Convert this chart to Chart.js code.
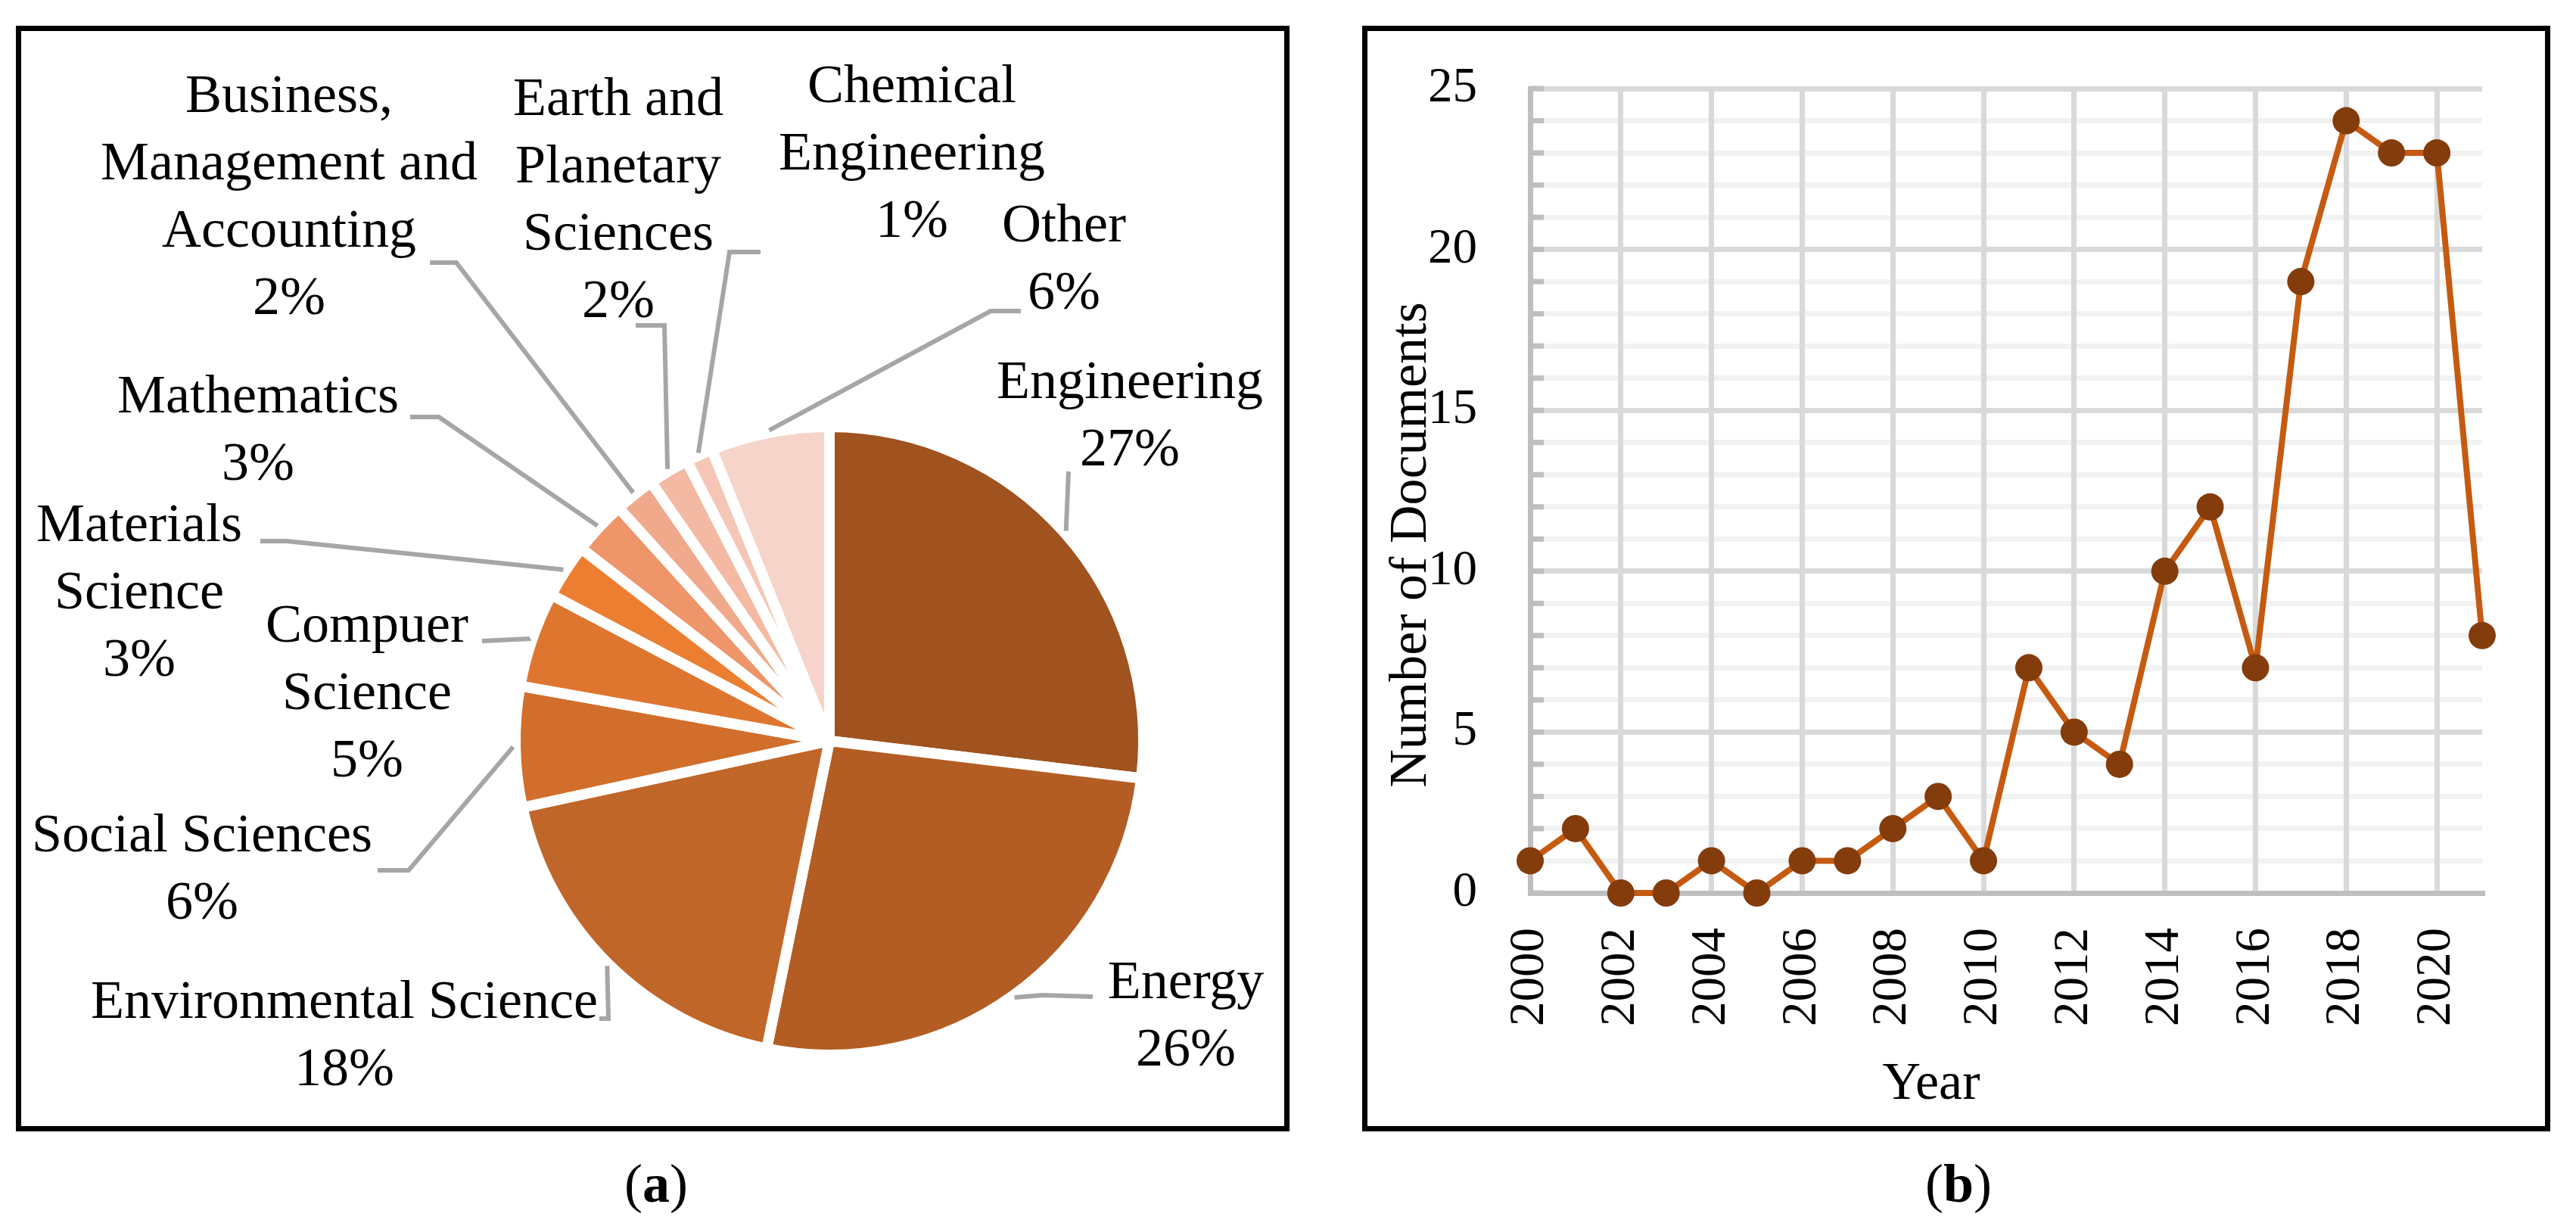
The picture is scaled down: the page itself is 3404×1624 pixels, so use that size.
<!DOCTYPE html>
<html>
<head>
<meta charset="utf-8">
<script src="https://cdn.jsdelivr.net/npm/chart.js@4.4.1/dist/chart.umd.min.js"></script>
<style>
html, body { margin: 0; padding: 0; background: #fff; }
body { width: 3404px; height: 1624px; position: relative; overflow: hidden; font-family: 'Liberation Serif', serif; }
.box { position: absolute; border: 7px solid #000; box-sizing: border-box; }
canvas { position: absolute; left: 0; top: 0; }
.cap { position: absolute; font-size: 72px; line-height: 1; transform: translate(-50%, -50%); }
</style>
</head>
<body>
<div class="box" style="left:21px;top:34px;width:1683px;height:1461px"></div>
<div class="box" style="left:1800px;top:34px;width:1570px;height:1461px"></div>
<canvas id="pieChart" width="3404" height="1624" style="width:3404px;height:1624px"></canvas>
<canvas id="lineChart" width="3404" height="1624" style="width:3404px;height:1624px"></canvas>
<div class="cap" style="left:867px;top:1564px">(<b>a</b>)</div>
<div class="cap" style="left:2588px;top:1564px">(<b>b</b>)</div>
<script>
// (a) subject areas
const subjects = [
    ['Engineering'],
    ['Energy'],
    ['Environmental Science'],
    ['Social Sciences'],
    ['Compuer', 'Science'],
    ['Materials', 'Science'],
    ['Mathematics'],
    ['Business,', 'Management and', 'Accounting'],
    ['Earth and', 'Planetary', 'Sciences'],
    ['Chemical', 'Engineering'],
    ['Other']
];
const shares = [26.9, 26.3, 18.4, 6.2, 4.9, 2.8, 2.8, 2.1, 2.1, 1.4, 6.1];
const sliceColors = ['#A0521F', '#B35D24', '#C16629', '#D16E2C', '#DF7630', '#EC7E32',
    '#EE956A', '#F0A98B', '#F3B9A3', '#F5C6B5', '#F6D4CA'];

// (b) documents per year
const years = ['2000', '2001', '2002', '2003', '2004', '2005', '2006', '2007', '2008', '2009', '2010',
    '2011', '2012', '2013', '2014', '2015', '2016', '2017', '2018', '2019', '2020', '2021'];
const documents = [1, 2, 0, 0, 1, 0, 1, 1, 2, 3, 1, 7, 5, 4, 10, 12, 7, 19, 24, 23, 23, 8];

const serif = 'Liberation Serif';

// where each pie label sits and the elbow points of its leader line
const labelLayout = [
    {x: 1493, y: 507, leader: [[1412, 623]]},
    {x: 1567, y: 1300, leader: [[1378, 1315], [1444, 1317]]},
    {x: 455, y: 1326, leader: [[804, 1346], [792, 1346]]},
    {x: 267, y: 1106, leader: [[540, 1150], [499, 1150]]},
    {x: 485, y: 829, leader: [[700, 844], [637, 847]]},
    {x: 184, y: 696, leader: [[379, 715], [344, 715]]},
    {x: 341, y: 526, leader: [[580, 551], [542, 551]]},
    {x: 382, y: 129, leader: [[603, 347], [568, 347]]},
    {x: 817, y: 133, leader: [[878, 430], [840, 430]]},
    {x: 1205, y: 116, leader: [[964, 333], [1005, 333]]},
    {x: 1406, y: 300, leader: [[1309, 411], [1349, 411]]}
];

const pieLabels = {
    id: 'pieLabels',
    afterDraw(chart) {
        const ctx = chart.ctx;
        const meta = chart.getDatasetMeta(0);
        ctx.save();
        meta.data.forEach((arc, i) => {
            const mid = (arc.startAngle + arc.endAngle) / 2;
            const r = arc.outerRadius + 3;
            const lay = labelLayout[i];
            ctx.strokeStyle = '#A6A6A6';
            ctx.lineWidth = 6;
            ctx.lineJoin = 'miter';
            ctx.beginPath();
            ctx.moveTo(arc.x + Math.cos(mid) * r, arc.y + Math.sin(mid) * r);
            lay.leader.forEach(p => ctx.lineTo(p[0], p[1]));
            ctx.stroke();

            const lines = subjects[i].concat([Math.round(shares[i]) + '%']);
            ctx.fillStyle = '#000';
            ctx.font = '72px "' + serif + '"';
            ctx.textAlign = 'center';
            ctx.textBaseline = 'middle';
            lines.forEach((t, k) => ctx.fillText(t, lay.x, lay.y + k * 89));
        });
        ctx.restore();
    }
};

new Chart(document.getElementById('pieChart'), {
    type: 'pie',
    data: {
        labels: subjects,
        datasets: [{
                data: shares,
                backgroundColor: sliceColors,
                borderColor: '#FFFFFF',
                borderWidth: 14
            }]
    },
    options: {
        responsive: false,
        animation: false,
        devicePixelRatio: 1,
        radius: 415,
        layout: {autoPadding: false, padding: {left: 596, right: 1808, top: 479, bottom: 145}},
        plugins: {legend: {display: false}, tooltip: {enabled: false}}
    },
    plugins: [pieLabels]
});

// axis titles and the small inside ticks of the value axis
const axisExtras = {
    id: 'axisExtras',
    beforeDatasetsDraw(chart) {
        const ctx = chart.ctx;
        const y = chart.scales.y;
        const left = chart.chartArea.left;
        ctx.save();
        ctx.strokeStyle = '#BFBFBF';
        ctx.lineWidth = 7;
        for (let v = 0; v <= 25; v++) {
            const py = y.getPixelForValue(v);
            ctx.beginPath();
            ctx.moveTo(left, py);
            ctx.lineTo(left + 18, py);
            ctx.stroke();
        }
        ctx.restore();
    },
    afterDraw(chart) {
        const ctx = chart.ctx;
        ctx.save();
        ctx.fillStyle = '#000';
        ctx.font = '70px "' + serif + '"';
        ctx.textAlign = 'center';
        ctx.textBaseline = 'middle';
        ctx.fillText('Year', 2552, 1434);
        ctx.translate(1866, 720);
        ctx.rotate(-Math.PI / 2);
        ctx.fillText('Number of Documents', 0, 0);
        ctx.restore();
    }
};

new Chart(document.getElementById('lineChart'), {
    type: 'line',
    data: {
        labels: years,
        datasets: [{
                data: documents,
                borderColor: '#C55A11',
                borderWidth: 8,
                pointRadius: 18,
                pointBackgroundColor: '#843C0C',
                pointBorderColor: '#843C0C',
                pointBorderWidth: 0,
                tension: 0,
                clip: false
            }]
    },
    options: {
        responsive: false,
        animation: false,
        devicePixelRatio: 1,
        layout: {autoPadding: false, padding: {left: 1822, right: 88, top: 117, bottom: 244}},
        plugins: {legend: {display: false}, tooltip: {enabled: false}},
        scales: {
            x: {
                type: 'category',
                offset: false,
                afterFit: s => { s.height = 200; },
                grid: {
                    color: c => c.index % 2 === 0 ? '#D9D9D9' : 'rgba(0,0,0,0)',
                    lineWidth: 7,
                    drawTicks: false,
                    z: -2
                },
                border: {color: '#BFBFBF', width: 7},
                ticks: {
                    autoSkip: false,
                    minRotation: 90,
                    maxRotation: 90,
                    padding: 46,
                    color: '#000',
                    font: {family: serif, size: 65},
                    callback: function (v, i) {
                        return i % 2 === 0 ? this.getLabelForValue(v) : '';
                    }
                }
            },
            yMinor: {
                type: 'linear',
                position: 'left',
                min: 0,
                max: 25,
                afterFit: s => { s.width = 0; },
                ticks: {stepSize: 1, display: false},
                grid: {color: '#F2F2F2', lineWidth: 7, drawTicks: false, z: -3},
                border: {display: false}
            },
            y: {
                type: 'linear',
                position: 'left',
                min: 0,
                max: 25,
                afterFit: s => { s.width = 200; },
                ticks: {stepSize: 5, padding: 70, color: '#000', font: {family: serif, size: 65}},
                grid: {color: '#D9D9D9', lineWidth: 7, drawTicks: false, z: -1},
                border: {color: '#BFBFBF', width: 7}
            }
        }
    },
    plugins: [axisExtras]
});
</script>
</body>
</html>
